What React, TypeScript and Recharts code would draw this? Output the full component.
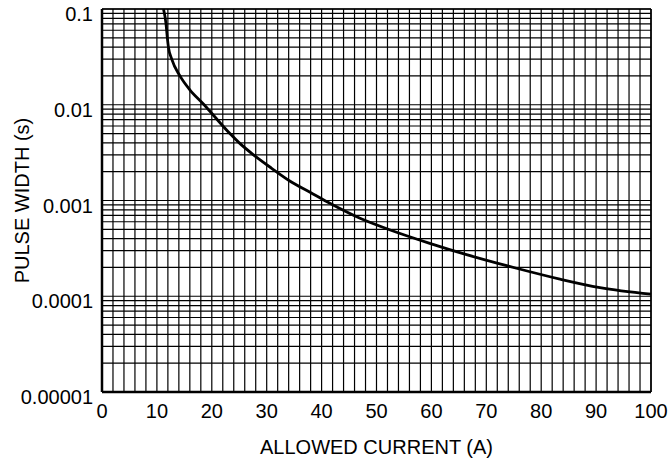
import React from 'react';
import {
    CartesianGrid,
    Line,
    LineChart,
    ReferenceLine,
    XAxis,
    YAxis,
} from 'recharts';

// allowed current (A)
const currentA = [
    11.2, 11.66, 11.9, 12.1, 12.7, 14.2, 16.0, 18.6, 20.1, 23.3, 25.0, 27.6,
    30.9, 34.2, 37.9, 41.5, 47.0, 52.5, 59.7, 66.4, 75.5, 83.4, 90.7, 100,
];

// pulse width (s) at those currents
const pulseWidthS = [
    0.1, 0.07, 0.05, 0.04, 0.03, 0.02, 0.0143, 0.01, 0.008, 0.005, 0.004,
    0.003, 0.00217, 0.0016, 0.00122, 0.000935, 0.000652, 0.000492, 0.000357,
    0.000272, 0.000196, 0.000151, 0.000123, 0.000105,
];

const yDecades = [0.00001, 0.0001, 0.001, 0.01, 0.1];
const yDecadeLabels = ['0.00001', '0.0001', '0.001', '0.01', '0.1'];
const xLabelTicks = [0, 10, 20, 30, 40, 50, 60, 70, 80, 90, 100];

// grid: every 2 A on x, 1..9 per decade on y
const xGridTicks = Array.from({ length: 51 }, (_, i) => i * 2);
const yGridTicks = yDecades
    .slice(0, -1)
    .flatMap((d) => [1, 2, 3, 4, 5, 6, 7, 8, 9].map((m) => +(m * d).toPrecision(3)))
    .concat([0.1]);

const data = currentA.map((a, i) => ({ current: a, width: pulseWidthS[i] }));

const FONT = '"Liberation Sans", Arial, Helvetica, sans-serif';
const FONT_SIZE = 20;

const YTick = (props: any) => {
    const { x, y, payload } = props;
    const idx = yDecades.findIndex((d) => Math.abs(d - payload.value) / d < 1e-6);
    if (idx < 0) return null;
    return (
        <text x={x} y={y} dy={12} textAnchor="end" fill="#000" fontSize={FONT_SIZE} fontFamily={FONT}>
            {yDecadeLabels[idx]}
        </text>
    );
};

const XTick = (props: any) => {
    const { x, y, payload } = props;
    if (!xLabelTicks.includes(payload.value)) return null;
    return (
        <text x={x} y={y} dy="0.71em" textAnchor="middle" fill="#000" fontSize={FONT_SIZE} fontFamily={FONT}>
            {payload.value}
        </text>
    );
};

export default function App() {
    return (
        <div style={{ position: 'absolute', left: 0, top: 0, background: '#fff' }}>
            <LineChart
                width={672}
                height={466}
                data={data}
                margin={{ top: 9, right: 21, bottom: 0, left: 0 }}
            >
                <CartesianGrid stroke="#000" strokeWidth={1.2} />

                <XAxis
                    dataKey="current"
                    type="number"
                    domain={[0, 100]}
                    ticks={xGridTicks}
                    interval={0}
                    height={74}
                    tickSize={0}
                    tickMargin={12}
                    tickLine={false}
                    axisLine={{ stroke: '#000', strokeWidth: 2.5 }}
                    tick={<XTick />}
                    label={{
                        value: 'ALLOWED CURRENT (A)',
                        position: 'insideBottom',
                        offset: 12,
                        style: { fontSize: FONT_SIZE, fontFamily: FONT, fill: '#000' },
                    }}
                />

                <YAxis
                    dataKey="width"
                    scale="log"
                    domain={[0.00001, 0.1]}
                    allowDataOverflow
                    ticks={yGridTicks}
                    interval={0}
                    width={102}
                    tickSize={0}
                    tickMargin={9}
                    tickLine={false}
                    axisLine={{ stroke: '#000', strokeWidth: 2.5 }}
                    tick={<YTick />}
                    label={{
                        value: 'PULSE WIDTH (s)',
                        angle: -90,
                        position: 'insideLeft',
                        offset: 22,
                        style: {
                            fontSize: FONT_SIZE,
                            fontFamily: FONT,
                            fill: '#000',
                            textAnchor: 'middle',
                        },
                    }}
                />

                <ReferenceLine y={0.1} stroke="#000" strokeWidth={1.5} />
                <ReferenceLine x={100} stroke="#000" strokeWidth={1.5} />

                <Line
                    type="monotone"
                    dataKey="width"
                    stroke="#000"
                    strokeWidth={2.8}
                    dot={false}
                    isAnimationActive={false}
                />
            </LineChart>
        </div>
    );
}
